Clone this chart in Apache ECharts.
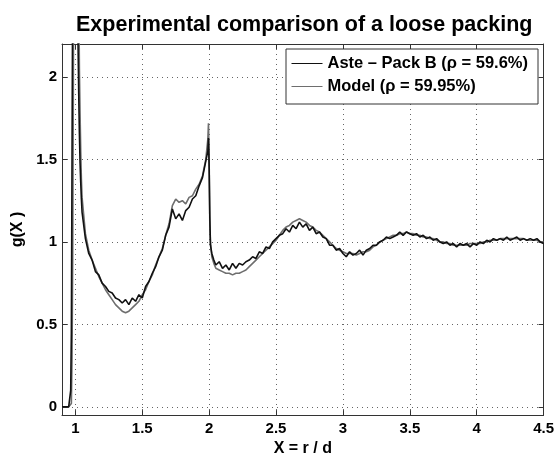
<!DOCTYPE html>
<html>
<head>
<meta charset="utf-8">
<script src="https://cdn.jsdelivr.net/npm/echarts@6/dist/echarts.min.js"></script>
<style>html,body{margin:0;padding:0;background:#fff}#c{width:557px;height:462px}</style>
</head>
<body>
<div id="c"></div>
<script>
// sampling positions X = r/d
const xs = [
  // near contact peak
  0.90, 0.95, 0.96, 0.965, 0.97, 0.975, 0.98, 0.985, 0.99, 0.995,
  1.0, 1.005, 1.01, 1.015, 1.02, 1.025, 1.03, 1.035, 1.04, 1.045, 1.05,
  // 1.075 .. 1.975
  1.075, 1.1, 1.125, 1.15, 1.175, 1.2, 1.225, 1.25, 1.275, 1.3,
  1.325, 1.35, 1.375, 1.4, 1.425, 1.45, 1.475, 1.5, 1.525, 1.55,
  1.575, 1.6, 1.625, 1.65, 1.675, 1.7, 1.725, 1.75, 1.775, 1.8,
  1.825, 1.85, 1.875, 1.9, 1.925, 1.95, 1.975,
  // around X = 2
  1.99, 1.995, 2.0, 2.005, 2.01, 2.02, 2.035, 2.05,
  // 2.075 .. 4.5
  2.075, 2.1, 2.125, 2.15, 2.175, 2.2, 2.225, 2.25, 2.275, 2.3,
  2.325, 2.35, 2.375, 2.4, 2.425, 2.45, 2.475, 2.5, 2.525, 2.55,
  2.575, 2.6, 2.625, 2.65, 2.675, 2.7, 2.725, 2.75, 2.775, 2.8,
  2.825, 2.85, 2.875, 2.9, 2.925, 2.95, 2.975, 3.0, 3.025, 3.05,
  3.075, 3.1, 3.125, 3.15, 3.175, 3.2, 3.225, 3.25, 3.275, 3.3,
  3.325, 3.35, 3.375, 3.4, 3.425, 3.45, 3.475, 3.5, 3.525, 3.55,
  3.575, 3.6, 3.625, 3.65, 3.675, 3.7, 3.725, 3.75, 3.775, 3.8,
  3.825, 3.85, 3.875, 3.9, 3.925, 3.95, 3.975, 4.0, 4.025, 4.05,
  4.075, 4.1, 4.125, 4.15, 4.175, 4.2, 4.225, 4.25, 4.275, 4.3,
  4.325, 4.35, 4.375, 4.4, 4.425, 4.45, 4.475, 4.5
];

// Aste - Pack B (experiment)
const asteG = [
  0, 0, 0.01, 0.1, 0.45, 1.5, 2.6, 4.0, 5.0, 5.5,
  5.2, 4.3, 3.4, 2.7, 2.2, 1.9, 1.66, 1.48, 1.36, 1.26, 1.18,
  1.02, 0.93, 0.89, 0.82, 0.80, 0.75, 0.73, 0.70, 0.69, 0.66,
  0.65, 0.63, 0.65, 0.62, 0.66, 0.64, 0.68, 0.66, 0.73, 0.76,
  0.81, 0.85, 0.91, 0.95, 1.04, 1.09, 1.20, 1.14, 1.17, 1.13,
  1.19, 1.21, 1.26, 1.28, 1.34, 1.39, 1.49,
  1.55, 1.63, 1.45, 1.15, 0.98, 0.93, 0.89, 0.86,
  0.88, 0.84, 0.86, 0.83, 0.87, 0.84, 0.87, 0.86, 0.88, 0.89,
  0.91, 0.90, 0.94, 0.93, 0.97, 0.96, 1.00, 1.02, 1.04, 1.05,
  1.08, 1.06, 1.10, 1.08, 1.12, 1.09, 1.11, 1.07, 1.09, 1.05,
  1.06, 1.03, 1.02, 0.98, 0.98, 0.95, 0.96, 0.93, 0.91, 0.94,
  0.92, 0.93, 0.95, 0.92, 0.95, 0.96, 0.98, 0.98, 1.00, 1.01,
  1.03, 1.02, 1.03, 1.04, 1.06, 1.04, 1.06, 1.05, 1.04, 1.05,
  1.03, 1.04, 1.02, 1.03, 1.01, 1.02, 1.00, 0.99, 1.00, 0.98,
  0.99, 0.97, 0.99, 0.98, 0.99, 0.97, 0.99, 0.98, 1.00, 0.99,
  1.01, 1.00, 1.02, 1.01, 1.02, 1.01, 1.03, 1.01, 1.02, 1.03,
  1.01, 1.02, 1.01, 1.02, 1.01, 1.02, 1.00, 0.99
];

// Model
const modelG = [
  0, 0, 0, 0, 0.02, 0.3, 0.9, 2.0, 3.2, 4.5,
  5.5, 5.2, 4.4, 3.6, 3.0, 2.6, 2.05, 1.78, 1.55, 1.38, 1.27,
  1.05, 0.95, 0.89, 0.84, 0.79, 0.75, 0.71, 0.68, 0.65, 0.62,
  0.60, 0.58, 0.57, 0.58, 0.60, 0.62, 0.64, 0.68, 0.71, 0.76,
  0.80, 0.86, 0.91, 0.96, 1.04, 1.11, 1.22, 1.26, 1.24, 1.25,
  1.23, 1.27, 1.28, 1.32, 1.35, 1.40, 1.50,
  1.62, 1.72, 1.50, 1.10, 0.99, 0.91, 0.87, 0.84,
  0.83, 0.82, 0.81, 0.81, 0.80, 0.81, 0.81, 0.82, 0.83, 0.85,
  0.87, 0.89, 0.91, 0.93, 0.95, 0.97, 0.99, 1.01, 1.04, 1.07,
  1.09, 1.10, 1.12, 1.13, 1.14, 1.13, 1.12, 1.10, 1.09, 1.07,
  1.06, 1.04, 1.02, 1.00, 0.98, 0.96, 0.95, 0.94, 0.93, 0.93,
  0.93, 0.92, 0.93, 0.94, 0.94, 0.95, 0.97, 0.98, 1.00, 1.01,
  1.02, 1.03, 1.04, 1.04, 1.05, 1.05, 1.06, 1.05, 1.05, 1.04,
  1.04, 1.03, 1.03, 1.02, 1.02, 1.01, 1.00, 1.00, 0.99, 0.99,
  0.98, 0.98, 0.98, 0.98, 0.98, 0.99, 0.99, 0.99, 0.99, 1.00,
  1.00, 1.01, 1.01, 1.01, 1.02, 1.02, 1.02, 1.02, 1.02, 1.02,
  1.02, 1.02, 1.01, 1.01, 1.01, 1.01, 1.00, 1.00
];

const xTicks = [1, 1.5, 2, 2.5, 3, 3.5, 4, 4.5];
const yTicks = [0, 0.5, 1, 1.5, 2];
const titleText = 'Experimental comparison of a loose packing';
const seriesNames = ['Aste \u2013 Pack B (\u03C1 = 59.6%)', 'Model (\u03C1 = 59.95%)'];

const FONT = '"Liberation Sans", Arial, Helvetica, sans-serif';
const pair = ys => xs.map((x, i) => [x, ys[i]]);

const gridLine = { show: true, lineStyle: { color: '#666', width: 1, type: [1, 4] } };
const borderLine = { show: true, onZero: false, lineStyle: { color: '#333', width: 1 } };

const chart = echarts.init(document.getElementById('c'), null, { renderer: 'canvas' });
chart.setOption({
  animation: false,
  backgroundColor: '#fff',
  textStyle: { fontFamily: FONT },
  title: {
    text: titleText,
    left: 71, top: 9,
    textStyle: { fontFamily: FONT, fontWeight: 'bold', fontSize: 21.5, color: '#000' }
  },
  legend: {
    data: seriesNames,
    orient: 'vertical',
    left: 286, top: 49,
    padding: [6, 10, 9, 5],
    itemWidth: 31, itemHeight: 14, itemGap: 6,
    backgroundColor: '#fff',
    borderColor: '#333', borderWidth: 1, borderRadius: 0,
    itemStyle: { opacity: 0 },
    lineStyle: { width: 1 },
    textStyle: { fontFamily: FONT, fontWeight: 'bold', fontSize: 16.5, color: '#000' }
  },
  grid: { left: 62, right: 11, top: 44, bottom: 38, containLabel: false },
  xAxis: [{
    type: 'value', min: 0.9, max: 4.5, position: 'bottom',
    axisLine: borderLine,
    axisTick: { show: true, inside: true, length: 5, customValues: xTicks, lineStyle: { color: '#333' } },
    axisLabel: { customValues: xTicks, margin: 6, fontFamily: FONT, fontWeight: 'bold', fontSize: 15, color: '#000' },
    splitLine: gridLine,
    name: 'X = r / d', nameLocation: 'middle', nameGap: 20,
    nameTextStyle: { fontFamily: FONT, fontWeight: 'bold', fontSize: 16, color: '#000' }
  }, {
    type: 'value', min: 0.9, max: 4.5, position: 'top',
    axisLine: borderLine,
    axisTick: { show: true, inside: true, length: 5, customValues: xTicks, lineStyle: { color: '#333' } },
    axisLabel: { show: false },
    splitLine: { show: false }
  }],
  yAxis: [{
    type: 'value', min: -0.05, max: 2.2, position: 'left',
    axisLine: borderLine,
    axisTick: { show: true, inside: true, length: 5, customValues: yTicks, lineStyle: { color: '#333' } },
    axisLabel: { customValues: yTicks, margin: 5, fontFamily: FONT, fontWeight: 'bold', fontSize: 15, color: '#000' },
    splitLine: gridLine,
    name: 'g(X )', nameLocation: 'middle', nameGap: 36, nameRotate: 90,
    nameTextStyle: { fontFamily: FONT, fontWeight: 'bold', fontSize: 16, color: '#000' }
  }, {
    type: 'value', min: -0.05, max: 2.2, position: 'right',
    axisLine: borderLine,
    axisTick: { show: true, inside: true, length: 5, customValues: yTicks, lineStyle: { color: '#333' } },
    axisLabel: { show: false },
    splitLine: { show: false }
  }],
  series: [{
    name: seriesNames[1], type: 'line', data: pair(modelG),
    xAxisIndex: 0, yAxisIndex: 0,
    symbol: 'none', clip: true, z: 2,
    lineStyle: { color: '#6e6e6e', width: 1.6 },
    itemStyle: { color: '#6e6e6e' }
  }, {
    name: seriesNames[0], type: 'line', data: pair(asteG),
    xAxisIndex: 0, yAxisIndex: 0,
    symbol: 'none', clip: true, z: 3,
    lineStyle: { color: '#111', width: 1.6 },
    itemStyle: { color: '#111' }
  }]
});
</script>
</body>
</html>
